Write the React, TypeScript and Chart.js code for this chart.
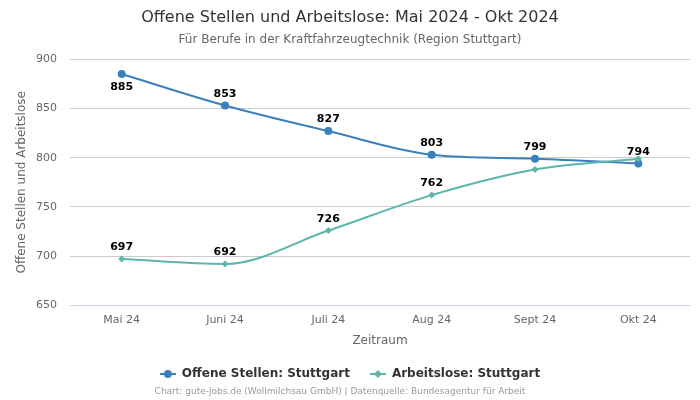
import React, { useEffect, useRef } from 'react';
import { Chart, registerables } from 'chart.js';

Chart.register(...registerables);

const FONT = '"DejaVu Sans", Verdana, sans-serif';

const categories = ['Mai 24', 'Juni 24', 'Juli 24', 'Aug 24', 'Sept 24', 'Okt 24'];
const offeneStellen = [885, 853, 827, 803, 799, 794];
const arbeitslose = [697, 692, 726, 762, 788, 799];
const yMin = 650;
const yMax = 900;
const yStep = 50;

const titleText = 'Offene Stellen und Arbeitslose: Mai 2024 - Okt 2024';
const subtitleText = 'Für Berufe in der Kraftfahrzeugtechnik (Region Stuttgart)';
const yTitle = 'Offene Stellen und Arbeitslose';
const xTitle = 'Zeitraum';
const seriesNames = ['Offene Stellen: Stuttgart', 'Arbeitslose: Stuttgart'];
const creditText = 'Chart: gute-jobs.de (Wollmilchsau GmbH) | Datenquelle: Bundesagentur für Arbeit';

const BLUE = '#3a80bd';
const TEAL = '#5db5ad';

function legendIcon(color: string, diamond: boolean) {
  const c = document.createElement('canvas');
  c.width = 16;
  c.height = 10;
  const g = c.getContext('2d')!;
  g.strokeStyle = color;
  g.lineWidth = 2;
  g.beginPath();
  g.moveTo(0, 5);
  g.lineTo(16, 5);
  g.stroke();
  g.fillStyle = color;
  g.beginPath();
  if (diamond) {
    g.moveTo(8, 1);
    g.lineTo(12, 5);
    g.lineTo(8, 9);
    g.lineTo(4, 5);
    g.closePath();
  } else {
    g.arc(8, 5, 4, 0, Math.PI * 2);
  }
  g.fill();
  return c;
}

const labelPlugin = {
  id: 'pointLabels',
  afterDatasetsDraw(chart: any) {
    const ctx = chart.ctx;
    const area = chart.chartArea;
    const boxes: { l: number; r: number; t: number; b: number }[] = [];
    ctx.save();
    ctx.font = `bold 11px ${FONT}`;
    ctx.textAlign = 'center';
    ctx.textBaseline = 'middle';
    ctx.lineJoin = 'round';
    chart.data.datasets.forEach((ds: any, di: number) => {
      const meta = chart.getDatasetMeta(di);
      meta.data.forEach((pt: any, i: number) => {
        const text = String(ds.data[i]);
        const w = ctx.measureText(text).width + 6;
        const h = 16;
        let cy = pt.y - 11.5;
        if (cy - h / 2 < area.top) cy = pt.y + 13;
        const box = { l: pt.x - w / 2, r: pt.x + w / 2, t: cy - h / 2, b: cy + h / 2 };
        if (boxes.some((b) => box.l < b.r && box.r > b.l && box.t < b.b && box.b > b.t)) return;
        boxes.push(box);
        ctx.strokeStyle = 'rgba(255,255,255,0.9)';
        ctx.lineWidth = 2;
        ctx.strokeText(text, pt.x, cy);
        ctx.fillStyle = '#000';
        ctx.fillText(text, pt.x, cy);
      });
    });
    ctx.restore();
  },
};

const creditPlugin = {
  id: 'credits',
  afterDraw(chart: any) {
    const ctx = chart.ctx;
    ctx.save();
    ctx.font = `9px ${FONT}`;
    ctx.fillStyle = '#999999';
    ctx.textAlign = 'center';
    ctx.textBaseline = 'middle';
    ctx.fillText(creditText, 340, 392);
    ctx.restore();
  },
};

export default function App() {
  const ref = useRef<HTMLCanvasElement | null>(null);

  useEffect(() => {
    document.body.style.margin = '0';
    if (!ref.current) return;
    const icons = [legendIcon(BLUE, false), legendIcon(TEAL, true)];
    const chart = new Chart(ref.current, {
      type: 'line',
      data: {
        labels: categories,
        datasets: [
          {
            label: seriesNames[0],
            data: offeneStellen,
            borderColor: BLUE,
            backgroundColor: BLUE,
            borderWidth: 2,
            pointRadius: 4,
            pointBorderWidth: 0,
            pointHoverRadius: 4,
            pointStyle: 'circle',
            cubicInterpolationMode: 'monotone',
            fill: false,
            order: 1,
          },
          {
            label: seriesNames[1],
            data: arbeitslose,
            borderColor: TEAL,
            backgroundColor: TEAL,
            borderWidth: 2,
            pointRadius: 3.5,
            pointBorderWidth: 0,
            pointHoverRadius: 3.5,
            pointStyle: 'rectRot',
            cubicInterpolationMode: 'monotone',
            fill: false,
            order: 0,
          },
        ],
      },
      options: {
        responsive: false,
        animation: false,
        devicePixelRatio: 1,
        layout: { padding: { top: 7, left: 10, right: 10, bottom: 10 } },
        plugins: {
          title: {
            display: true,
            text: titleText,
            color: '#333333',
            font: { family: FONT, size: 16, weight: 'normal' },
            padding: { top: 1.4, bottom: 0 },
          },
          subtitle: {
            display: true,
            text: subtitleText,
            color: '#666666',
            font: { family: FONT, size: 12, weight: 'normal' },
            padding: { top: 5.2, bottom: 12 },
          },
          legend: {
            position: 'bottom',
            labels: {
              usePointStyle: true,
              pointStyleWidth: 16,
              boxHeight: 10,
              color: '#333333',
              padding: 20,
              font: { family: FONT, size: 12, weight: 'bold' },
              generateLabels: (ch: any) =>
                ch.data.datasets.map((ds: any, i: number) => ({
                  text: ds.label,
                  pointStyle: icons[i],
                  fillStyle: ds.borderColor,
                  strokeStyle: ds.borderColor,
                  lineWidth: 0,
                  hidden: false,
                  datasetIndex: i,
                  fontColor: '#333333',
                })),
            },
          },
          tooltip: { enabled: false },
        },
        scales: {
          x: {
            offset: true,
            grid: { display: false, drawTicks: false },
            border: { display: true, color: '#ccd6eb', width: 1 },
            ticks: { color: '#666666', font: { family: FONT, size: 11 }, padding: 8 },
            title: {
              display: true,
              text: xTitle,
              color: '#666666',
              font: { family: FONT, size: 12 },
              padding: { top: -1, bottom: 0 },
            },
          },
          y: {
            min: yMin,
            max: yMax,
            afterFit: (s: any) => {
              s.width = 60;
            },
            grid: {
              drawTicks: false,
              color: (c: any) => (c.tick && c.tick.value === yMin ? '#ccd6eb' : '#cccccc'),
            },
            border: { display: false },
            ticks: {
              stepSize: yStep,
              color: '#666666',
              font: { family: FONT, size: 11 },
              padding: 13,
            },
            title: {
              display: true,
              text: yTitle,
              color: '#666666',
              font: { family: FONT, size: 12 },
              padding: { top: 5, bottom: 4 },
            },
          },
        },
      },
      plugins: [labelPlugin, creditPlugin],
    } as any);
    return () => chart.destroy();
  }, []);

  return (
    <div style={{ width: 700, height: 400 }}>
      <canvas ref={ref} width={700} height={400} style={{ width: 700, height: 400, display: 'block' }} />
    </div>
  );
}
